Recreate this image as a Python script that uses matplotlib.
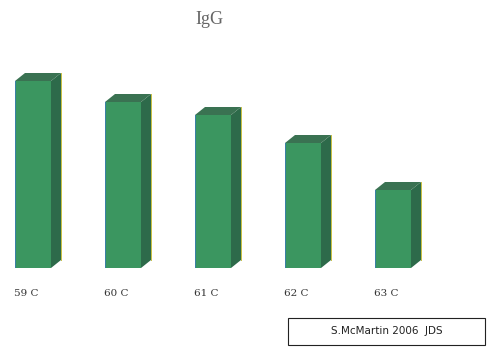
import matplotlib
matplotlib.use("Agg")
import matplotlib.pyplot as plt
from matplotlib.patches import Polygon, Rectangle

categories = ["59 C", "60 C", "61 C", "62 C", "63 C"]
values = [187, 166, 153, 125, 78]
title = "IgG"
source = "S.McMartin 2006  JDS"

W, H = 488, 347
fig = plt.figure(figsize=(W / 100, H / 100), dpi=100)
base_px = 79
ax = fig.add_axes([0, base_px / H, 1, (H - base_px) / H])
x0 = 33 / 90
ax.set_xlim(-x0, (W - 33) / 90)
ax.set_ylim(0, H - base_px)
ax.axis("off")

front = "#3b9660"
side = "#2d6a4a"
top = "#3a7252"
bw = 36 / 90
dx = 10 / 90
dy = 8

xs = list(range(len(values)))
ax.bar(xs, values, width=bw, color=front, edgecolor="none", zorder=3)
for x, v, lab in zip(xs, values, categories):
    r = x + bw / 2
    l = x - bw / 2
    ax.add_patch(Polygon([(r, 0), (r + dx, dy), (r + dx, v + dy), (r, v)],
                         closed=True, facecolor=side, edgecolor="none", zorder=2))
    ax.add_patch(Polygon([(l, v), (l + dx, v + dy), (r + dx, v + dy), (r, v)],
                         closed=True, facecolor=top, edgecolor="none", zorder=2))
    ax.plot([r + dx, r + dx], [dy, v + dy], color="#c8c040", lw=0.7, zorder=4)
    ax.plot([l, l], [0, v], color="#3a80a8", lw=0.7, zorder=4)
    ax.text(l - 0.01, -26, lab, ha="left", va="center",
            fontsize=7.5, family="DejaVu Serif", color="#333333", clip_on=False)

fig.text(0.43, 0.945, title, ha="center", va="center", fontsize=13,
         family="Liberation Serif", color="#666666")

fig.patches.append(Rectangle((288 / W, 2 / H), 197 / W, 27 / H, transform=fig.transFigure,
                             facecolor="white", edgecolor="#222222", lw=0.8))
fig.text(387 / W, (H - 331) / H, source, ha="center", va="center", fontsize=7.5,
         family="DejaVu Sans", color="#222222")

fig.savefig("out.png", dpi=100)
